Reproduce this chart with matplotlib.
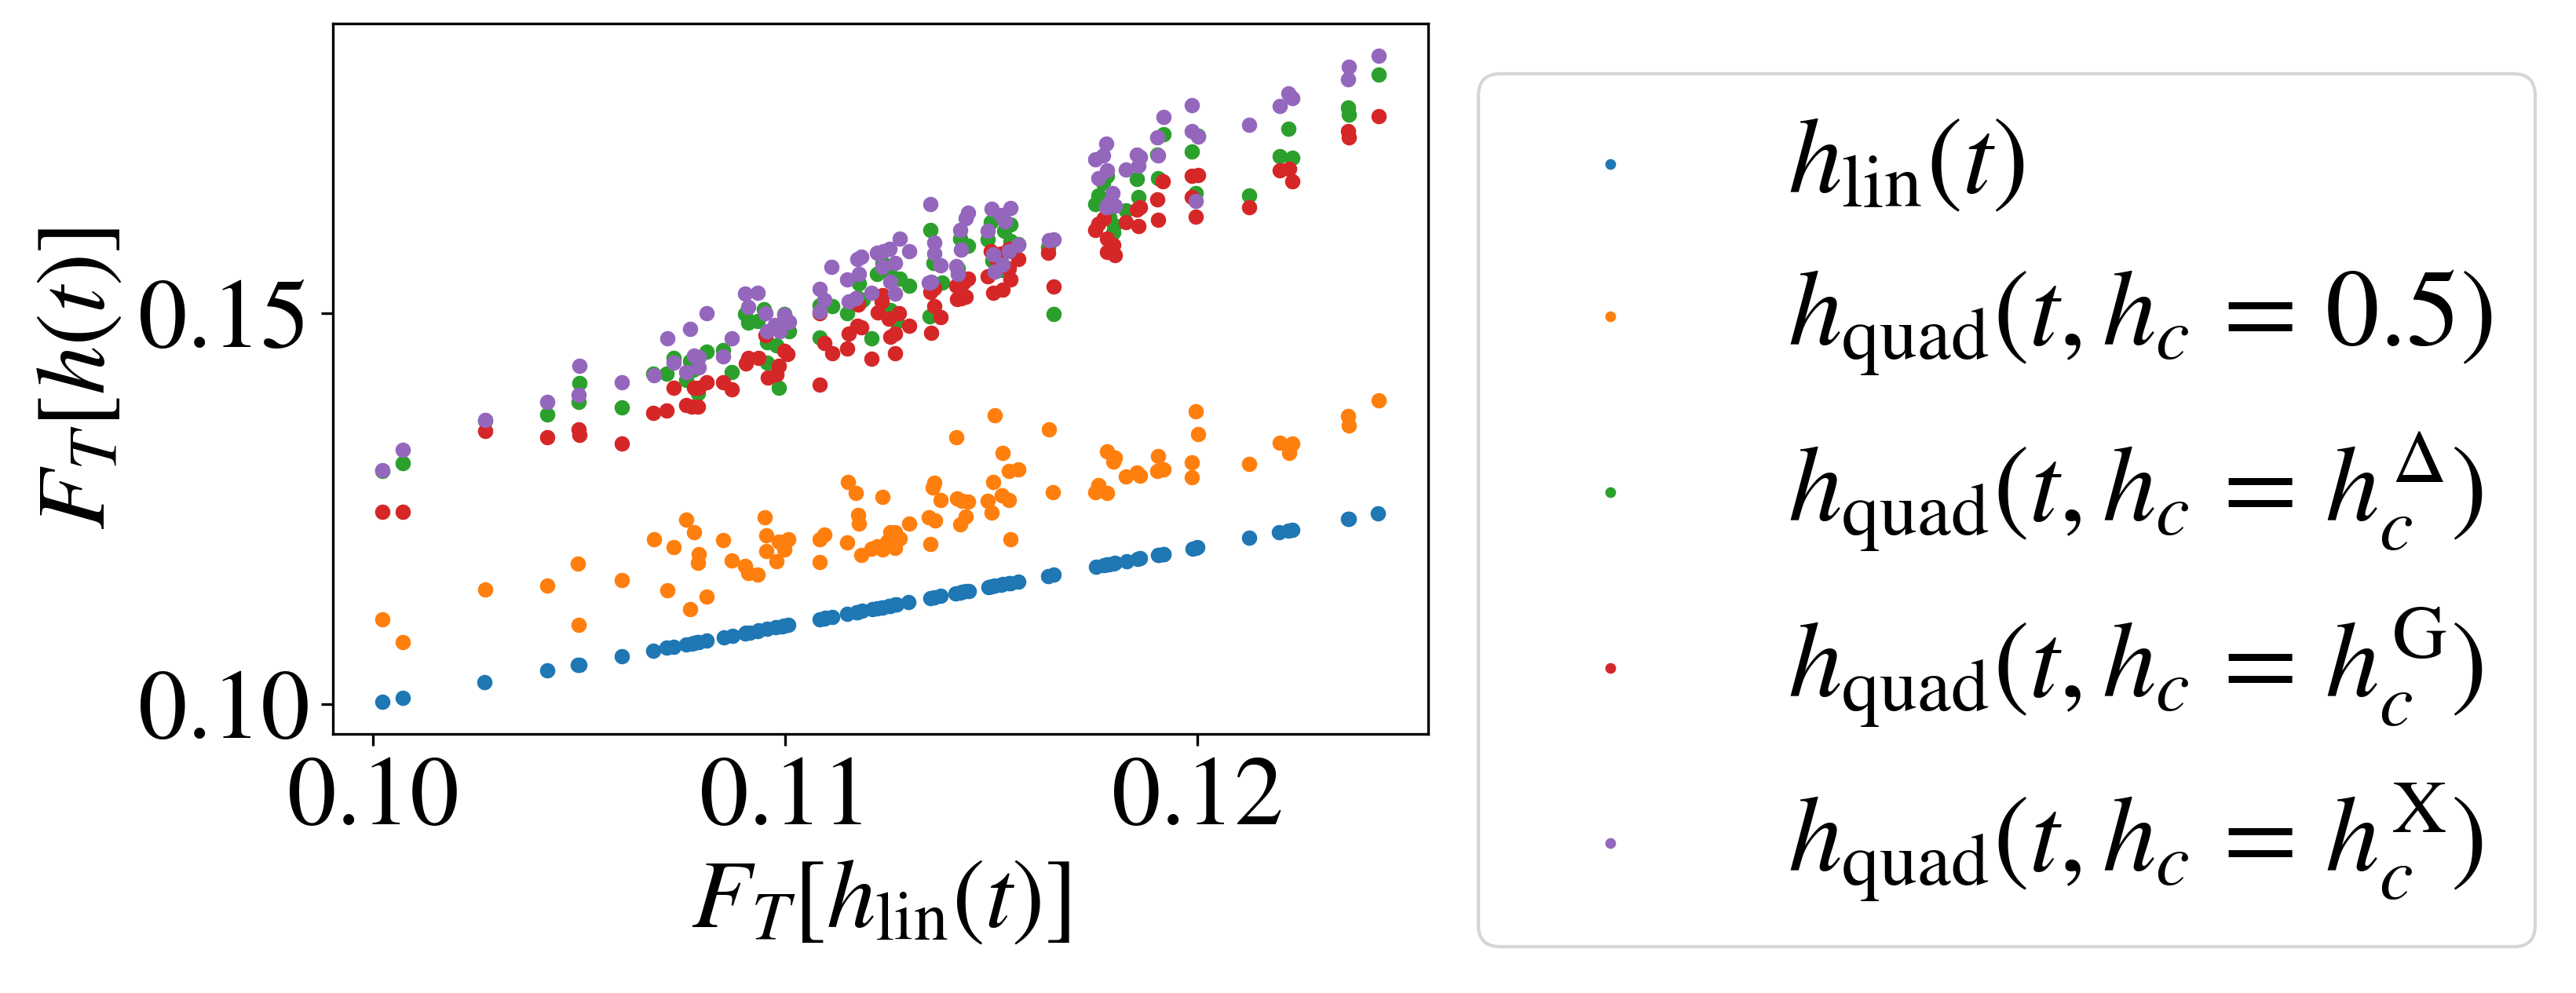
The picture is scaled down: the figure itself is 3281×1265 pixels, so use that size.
#!/usr/bin/env python3
# -*- coding: utf-8 -*-
"""
Scatter of F_T[h(t)] against F_T[h_lin(t)] for the linear and quadratic schedules
"""

import matplotlib
matplotlib.use("Agg")
import matplotlib.pyplot as plt
from matplotlib.ticker import MultipleLocator

# Serif math look
plt.rcParams['mathtext.fontset'] = 'stix'
plt.rcParams['font.family'] = ['STIXGeneral', 'DejaVu Serif']
plt.rcParams['font.size'] = 30

# ---- data ----
lin_x = [0.10023, 0.10071, 0.10270, 0.10423, 0.10497, 0.10500, 0.10604, 0.10680,
         0.10712, 0.10730, 0.10760, 0.10773, 0.10778, 0.10787, 0.10790, 0.10810,
         0.10851, 0.10872, 0.10903, 0.10905, 0.10914, 0.10933, 0.10935, 0.10956,
         0.10977, 0.10992, 0.10997, 0.11008, 0.11084, 0.11095, 0.11097, 0.11113,
         0.11151, 0.11173, 0.11175, 0.11186, 0.11211, 0.11223, 0.11234, 0.11235,
         0.11251, 0.11255, 0.11267, 0.11270, 0.11299, 0.11352, 0.11362, 0.11377,
         0.11413, 0.11425, 0.11429, 0.11437, 0.11445, 0.11493, 0.11500, 0.11509,
         0.11524, 0.11528, 0.11543, 0.11546, 0.11566, 0.11638, 0.11651, 0.11754,
         0.11773, 0.11780, 0.11784, 0.11796, 0.11799, 0.11829, 0.11855, 0.11860,
         0.11905, 0.11906, 0.11917, 0.11918, 0.11988, 0.11995, 0.12000, 0.12126,
         0.12198, 0.12221, 0.12230, 0.12366, 0.12368, 0.12438]
lin_y = [0.10027, 0.10077, 0.10278, 0.10429, 0.10499, 0.10502, 0.10606, 0.10683,
         0.10716, 0.10730, 0.10763, 0.10773, 0.10779, 0.10788, 0.10791, 0.10811,
         0.10852, 0.10873, 0.10904, 0.10906, 0.10915, 0.10934, 0.10936, 0.10957,
         0.10978, 0.10993, 0.10998, 0.11009, 0.11085, 0.11096, 0.11098, 0.11114,
         0.11152, 0.11174, 0.11176, 0.11187, 0.11212, 0.11224, 0.11235, 0.11236,
         0.11252, 0.11256, 0.11268, 0.11271, 0.11300, 0.11353, 0.11363, 0.11378,
         0.11414, 0.11426, 0.11430, 0.11438, 0.11446, 0.11494, 0.11501, 0.11510,
         0.11525, 0.11529, 0.11544, 0.11547, 0.11567, 0.11639, 0.11652, 0.11755,
         0.11774, 0.11781, 0.11785, 0.11797, 0.11800, 0.11830, 0.11856, 0.11861,
         0.11906, 0.11907, 0.11918, 0.11919, 0.11989, 0.11996, 0.12001, 0.12127,
         0.12199, 0.12222, 0.12231, 0.12367, 0.12369, 0.12439]

half_x = [0.10023, 0.10071, 0.10271, 0.10422, 0.10496, 0.10498, 0.10604, 0.10681,
          0.10713, 0.10730, 0.10759, 0.10770, 0.10778, 0.10789, 0.10790, 0.10810,
          0.10850, 0.10871, 0.10903, 0.10910, 0.10933, 0.10951, 0.10954, 0.10954,
          0.10978, 0.10985, 0.10997, 0.11008, 0.11083, 0.11084, 0.11095, 0.11151,
          0.11152, 0.11171, 0.11176, 0.11178, 0.11185, 0.11210, 0.11222, 0.11235,
          0.11235, 0.11248, 0.11254, 0.11267, 0.11267, 0.11278, 0.11300, 0.11349,
          0.11353, 0.11357, 0.11361, 0.11363, 0.11377, 0.11414, 0.11416, 0.11425,
          0.11429, 0.11437, 0.11444, 0.11492, 0.11500, 0.11505, 0.11509, 0.11526,
          0.11528, 0.11543, 0.11543, 0.11547, 0.11566, 0.11639, 0.11650, 0.11752,
          0.11759, 0.11780, 0.11780, 0.11795, 0.11799, 0.11827, 0.11854, 0.11860,
          0.11902, 0.11905, 0.11917, 0.11987, 0.11987, 0.11995, 0.12001, 0.12126,
          0.12199, 0.12222, 0.12230, 0.12365, 0.12368, 0.12439]
half_y = [0.11080, 0.10793, 0.11459, 0.11515, 0.11793, 0.11010, 0.11586, 0.12105,
          0.11452, 0.12011, 0.12356, 0.11214, 0.12195, 0.11803, 0.11917, 0.11368,
          0.12094, 0.11833, 0.11766, 0.11676, 0.11653, 0.12389, 0.12155, 0.11954,
          0.11827, 0.12078, 0.11971, 0.12105, 0.11810, 0.12111, 0.12168, 0.12068,
          0.12841, 0.12697, 0.12419, 0.12312, 0.11904, 0.11984, 0.12018, 0.11978,
          0.12647, 0.12078, 0.12195, 0.12195, 0.11994, 0.12121, 0.12312, 0.12386,
          0.12044, 0.12774, 0.12831, 0.12352, 0.12607, 0.13410, 0.12630, 0.12296,
          0.12597, 0.12396, 0.12587, 0.12597, 0.12446, 0.12841, 0.13691, 0.12674,
          0.13209, 0.12982, 0.12613, 0.12105, 0.12998, 0.13510, 0.12707, 0.12708,
          0.12798, 0.12698, 0.13233, 0.13099, 0.13156, 0.12908, 0.12965, 0.12922,
          0.12982, 0.13173, 0.12999, 0.13089, 0.12898, 0.13742, 0.13451, 0.13072,
          0.13340, 0.13216, 0.13333, 0.13685, 0.13561, 0.13886]

delta_x = [0.10023, 0.10071, 0.10271, 0.10422, 0.10498, 0.10500, 0.10604, 0.10680,
           0.10712, 0.10730, 0.10759, 0.10770, 0.10777, 0.10789, 0.10810, 0.10850,
           0.10871, 0.10903, 0.10911, 0.10933, 0.10949, 0.10956, 0.10956, 0.10978,
           0.10985, 0.10997, 0.11010, 0.11083, 0.11083, 0.11113, 0.11151, 0.11175,
           0.11178, 0.11189, 0.11210, 0.11222, 0.11235, 0.11254, 0.11254, 0.11270,
           0.11278, 0.11300, 0.11350, 0.11353, 0.11359, 0.11380, 0.11419, 0.11425,
           0.11444, 0.11492, 0.11498, 0.11503, 0.11527, 0.11532, 0.11546, 0.11546,
           0.11566, 0.11638, 0.11651, 0.11752, 0.11759, 0.11771, 0.11780, 0.11784,
           0.11787, 0.11795, 0.11797, 0.11827, 0.11854, 0.11857, 0.11902, 0.11905,
           0.11917, 0.11987, 0.11995, 0.12001, 0.12126, 0.12199, 0.12221, 0.12230,
           0.12365, 0.12368, 0.12439]
delta_y = [0.12982, 0.13082, 0.13624, 0.13701, 0.13862, 0.14103, 0.13792, 0.14227,
           0.14227, 0.14428, 0.14147, 0.14388, 0.14280, 0.13979, 0.14514, 0.14531,
           0.14244, 0.14990, 0.14883, 0.14903, 0.15050, 0.14629, 0.14371, 0.14588,
           0.14052, 0.14996, 0.14772, 0.15107, 0.14695, 0.15097, 0.15006, 0.15207,
           0.15385, 0.15174, 0.14682, 0.15509, 0.15642, 0.15498, 0.15040, 0.14896,
           0.15442, 0.15351, 0.14963, 0.16067, 0.15642, 0.15398, 0.15576, 0.15960,
           0.15867, 0.15944, 0.16168, 0.15676, 0.15559, 0.16061, 0.16134, 0.15927,
           0.15887, 0.15843, 0.14992, 0.16395, 0.16512, 0.16669, 0.16763, 0.16462,
           0.16228, 0.16034, 0.16127, 0.16321, 0.16723, 0.16495, 0.17031, 0.16736,
           0.17299, 0.17071, 0.16536, 0.17272, 0.16512, 0.17014, 0.17366, 0.16991,
           0.17640, 0.17550, 0.18058]

gauss_x = [0.10023, 0.10071, 0.10271, 0.10422, 0.10498, 0.10500, 0.10604, 0.10680,
           0.10712, 0.10730, 0.10759, 0.10773, 0.10778, 0.10789, 0.10790, 0.10810,
           0.10850, 0.10871, 0.10905, 0.10911, 0.10935, 0.10952, 0.10957, 0.10978,
           0.10985, 0.10997, 0.11006, 0.11083, 0.11083, 0.11095, 0.11113, 0.11151,
           0.11154, 0.11175, 0.11176, 0.11185, 0.11210, 0.11224, 0.11234, 0.11235,
           0.11252, 0.11255, 0.11267, 0.11267, 0.11276, 0.11300, 0.11353, 0.11354,
           0.11362, 0.11362, 0.11377, 0.11414, 0.11416, 0.11426, 0.11432, 0.11437,
           0.11444, 0.11492, 0.11498, 0.11505, 0.11514, 0.11524, 0.11528, 0.11543,
           0.11543, 0.11547, 0.11566, 0.11638, 0.11651, 0.11752, 0.11759, 0.11773,
           0.11780, 0.11781, 0.11795, 0.11799, 0.11827, 0.11854, 0.11856, 0.11860,
           0.11902, 0.11905, 0.11916, 0.11987, 0.11987, 0.11995, 0.12001, 0.12126,
           0.12199, 0.12222, 0.12230, 0.12365, 0.12368, 0.12439]
gauss_y = [0.12457, 0.12457, 0.13491, 0.13410, 0.13517, 0.13440, 0.13330, 0.13728,
           0.13752, 0.14043, 0.13825, 0.13802, 0.14046, 0.13802, 0.14046, 0.14120,
           0.14113, 0.14029, 0.14354, 0.14428, 0.14428, 0.14716, 0.14180, 0.14220,
           0.14331, 0.14521, 0.14478, 0.15006, 0.14086, 0.14622, 0.14494, 0.14548,
           0.14739, 0.14839, 0.15117, 0.14822, 0.14421, 0.15017, 0.15157, 0.15231,
           0.14930, 0.14705, 0.14739, 0.14488, 0.15006, 0.14846, 0.15274, 0.14755,
           0.15090, 0.15324, 0.14950, 0.15358, 0.15184, 0.15191, 0.15391, 0.15217,
           0.15442, 0.15475, 0.15793, 0.15264, 0.15676, 0.15766, 0.15308, 0.15827,
           0.15576, 0.15432, 0.15693, 0.15776, 0.15341, 0.16067, 0.16144, 0.16221,
           0.15960, 0.15786, 0.15876, 0.15749, 0.16167, 0.16328, 0.16121, 0.16355,
           0.16462, 0.16194, 0.16696, 0.16763, 0.16489, 0.16241, 0.16770, 0.16361,
           0.16837, 0.16857, 0.16690, 0.17339, 0.17255, 0.17527]

cross_x = [0.10023, 0.10071, 0.10271, 0.10422, 0.10498, 0.10500, 0.10604, 0.10681,
           0.10713, 0.10730, 0.10759, 0.10770, 0.10778, 0.10790, 0.10790, 0.10810,
           0.10850, 0.10871, 0.10903, 0.10911, 0.10933, 0.10952, 0.10956, 0.10975,
           0.10987, 0.10997, 0.11010, 0.11083, 0.11084, 0.11095, 0.11112, 0.11151,
           0.11154, 0.11171, 0.11175, 0.11178, 0.11185, 0.11210, 0.11222, 0.11235,
           0.11238, 0.11253, 0.11255, 0.11267, 0.11267, 0.11277, 0.11300, 0.11349,
           0.11353, 0.11354, 0.11361, 0.11362, 0.11377, 0.11414, 0.11418, 0.11425,
           0.11427, 0.11437, 0.11444, 0.11492, 0.11500, 0.11505, 0.11509, 0.11524,
           0.11527, 0.11533, 0.11543, 0.11547, 0.11566, 0.11640, 0.11651, 0.11752,
           0.11759, 0.11771, 0.11778, 0.11778, 0.11780, 0.11784, 0.11794, 0.11799,
           0.11827, 0.11854, 0.11856, 0.11860, 0.11902, 0.11905, 0.11917, 0.11987,
           0.11987, 0.11995, 0.12001, 0.12126, 0.12199, 0.12221, 0.12230, 0.12365,
           0.12368, 0.12439]
cross_y = [0.12992, 0.13249, 0.13635, 0.13862, 0.13952, 0.14327, 0.14113, 0.14210,
           0.14679, 0.14371, 0.14247, 0.14806, 0.14455, 0.14438, 0.14304, 0.15007,
           0.14448, 0.14679, 0.15258, 0.15087, 0.15268, 0.15007, 0.14766, 0.14856,
           0.14772, 0.14983, 0.14889, 0.15023, 0.15318, 0.15174, 0.15592, 0.15432,
           0.15157, 0.15197, 0.15693, 0.15509, 0.15726, 0.15268, 0.15776, 0.15599,
           0.15793, 0.15827, 0.15408, 0.15642, 0.15258, 0.15960, 0.15800, 0.15391,
           0.16395, 0.15408, 0.15910, 0.15766, 0.15619, 0.15609, 0.15509, 0.16067,
           0.15820, 0.16218, 0.16288, 0.16054, 0.16335, 0.15760, 0.15532, 0.16262,
           0.15626, 0.16178, 0.15800, 0.16345, 0.15877, 0.15934, 0.15944, 0.16974,
           0.16736, 0.17024, 0.17172, 0.16355, 0.16837, 0.16412, 0.16536, 0.16378,
           0.16847, 0.17038, 0.16897, 0.17004, 0.17259, 0.17024, 0.17516, 0.17667,
           0.17339, 0.16445, 0.17265, 0.17416, 0.17657, 0.17818, 0.17757, 0.17995,
           0.18159, 0.18299]

labels = [r'$h_{\mathrm{lin}}(t)$',
          r'$h_{\mathrm{quad}}(t, h_c \,=\, 0.5)$',
          r'$h_{\mathrm{quad}}(t, h_c \,=\, h_c^{\Delta})$',
          r'$h_{\mathrm{quad}}(t, h_c \,=\, h_c^{\mathrm{G}})$',
          r'$h_{\mathrm{quad}}(t, h_c \,=\, h_c^{\mathrm{X}})$']


def main():
    fig = plt.figure(figsize=(3281 / 300, 1265 / 300), dpi=300)
    ax = fig.add_axes([0.1292, 0.2609, 0.4252, 0.7154])

    series = [(lin_x, lin_y), (half_x, half_y), (delta_x, delta_y),
              (gauss_x, gauss_y), (cross_x, cross_y)]
    for i, ((xs, ys), lab) in enumerate(zip(series, labels)):
        ax.scatter(xs, ys, s=22, color=f'C{i}', label=lab, linewidths=0)

    ax.xaxis.set_major_locator(MultipleLocator(0.01))
    ax.yaxis.set_major_locator(MultipleLocator(0.05))
    ax.xaxis.set_major_formatter(lambda v, p: f'{v:.2f}')
    ax.yaxis.set_major_formatter(lambda v, p: f'{v:.2f}')

    ax.set_xlabel(r'$F_T[h_{\mathrm{lin}}(t)]$')
    ax.set_ylabel(r'$F_T[h(t)]$')

    handles, labs = ax.get_legend_handles_labels()
    fig.legend(handles, labs, loc='center left', bbox_to_anchor=(0.574, 0.486),
               borderaxespad=0, fontsize=33, markerscale=0.7,
               labelspacing=0.48, handlelength=1.64, handletextpad=0.82)

    fig.savefig('out.png', dpi=300)


if __name__ == "__main__":
    main()
